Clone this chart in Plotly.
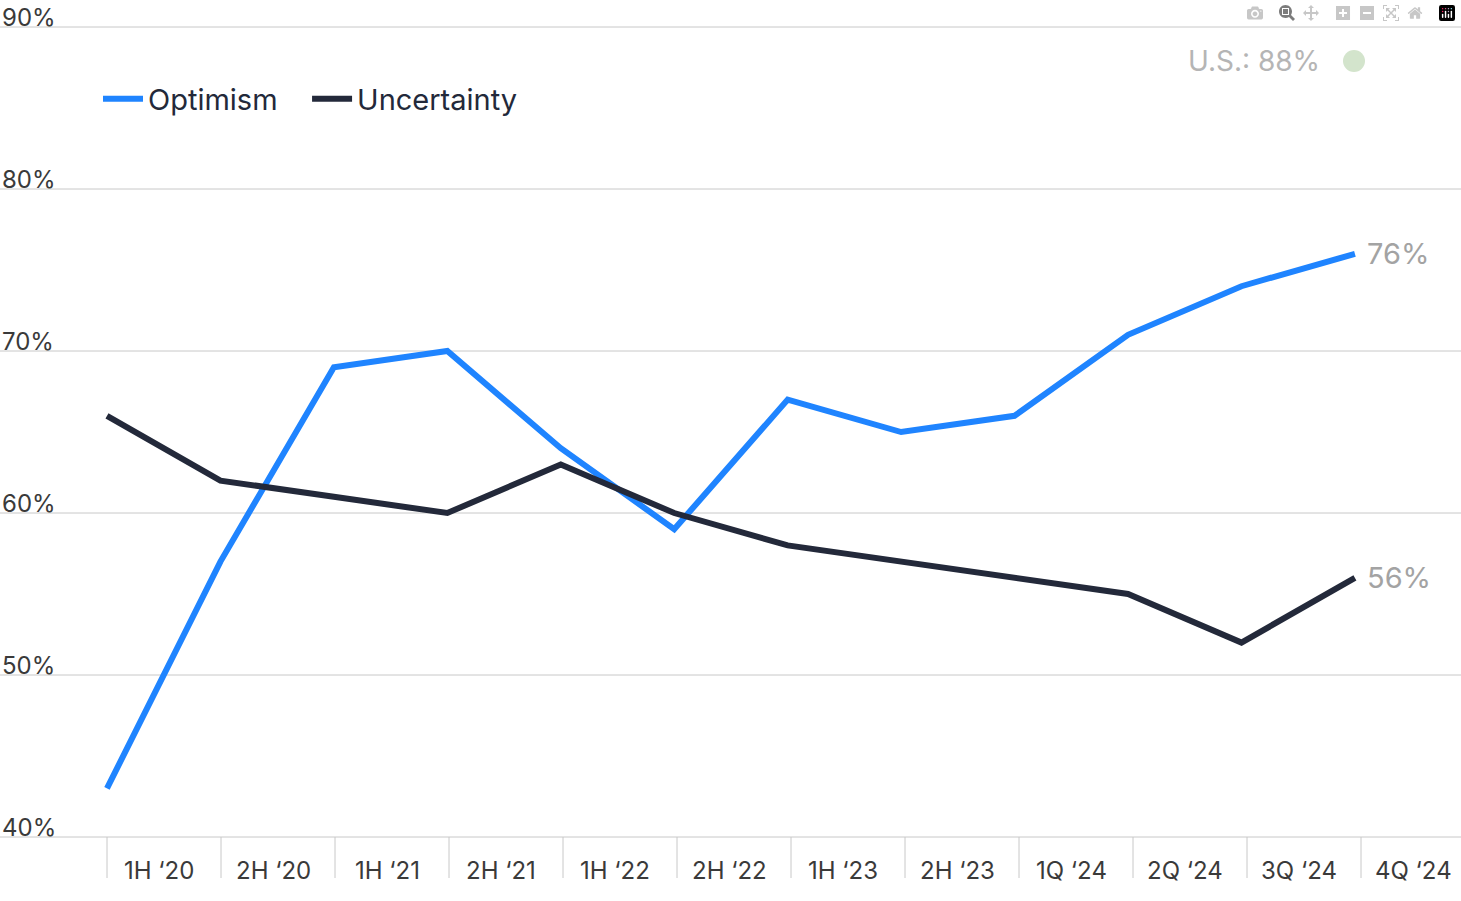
import plotly.graph_objects as go

categories = ["1H \u201820","2H \u201820","1H \u201821","2H \u201821","1H \u201822","2H \u201822",
              "1H \u201823","2H \u201823","1Q \u201824","2Q \u201824","3Q \u201824","4Q \u201824"]
optimism = [43, 57, 69, 70, 64, 59, 67, 65, 66, 71, 74, 76]
uncertainty = [66, 62, 61, 60, 63, 60, 58, 57, 56, 55, 52, 56]
y_ticks = [40, 50, 60, 70, 80, 90]

W, H = 1461, 901
BLUE, DARK, GRID, GRAY = "#1f84ff", "#23293a", "#c8c8c8", "#a3a3a3"
FONT = "Inter"
x = list(range(len(categories)))

fig = go.Figure()
fig.add_trace(go.Scatter(x=x, y=optimism, mode="lines", name="Optimism   ",
                         line=dict(color=BLUE, width=6)))
fig.add_trace(go.Scatter(x=x, y=uncertainty, mode="lines", name="Uncertainty",
                         line=dict(color=DARK, width=6)))

shapes, ann = [], []
for t in y_ticks:
    shapes.append(dict(type="line", xref="paper", yref="y", x0=0, x1=1, y0=t, y1=t,
                       line=dict(color=GRID, width=1), layer="below"))
    ann.append(dict(xref="paper", yref="y", x=0, y=t, text=f"{t}%", showarrow=False,
                    xanchor="left", yanchor="bottom", yshift=-7,
                    font=dict(family=FONT, size=24, color="#3a3a3a")))
for i, c in enumerate(categories):
    px = 107 + 114 * i
    shapes.append(dict(type="line", xref="paper", yref="paper", x0=px / W, x1=px / W,
                       y0=(H - 878) / H, y1=(H - 837) / H, line=dict(color=GRID, width=1)))
    ann.append(dict(xref="paper", yref="paper", x=(px + 52) / W, y=(H - 870) / H, text=c,
                    showarrow=False, xanchor="center", yanchor="middle",
                    font=dict(family=FONT, size=24, color="#3a3a3a")))
ann.append(dict(x=11, y=optimism[-1], text=f"{optimism[-1]}%", showarrow=False,
                xanchor="left", xshift=10, font=dict(family=FONT, size=29, color=GRAY)))
ann.append(dict(x=11, y=uncertainty[-1], text=f"{uncertainty[-1]}%", showarrow=False,
                xanchor="left", xshift=10, font=dict(family=FONT, size=29, color=GRAY)))
ann.append(dict(xref="paper", yref="paper", x=1322 / W, y=(H - 61) / H, text="U.S.: 88%",
                showarrow=False, xanchor="right", yanchor="middle",
                font=dict(family=FONT, size=28, color="#b5b5b5")))
shapes.append(dict(type="circle", xref="paper", yref="paper",
                   x0=1343 / W, x1=1365 / W, y0=(H - 72) / H, y1=(H - 50) / H,
                   fillcolor="#d3e4cc", line=dict(width=0)))

fig.update_layout(
    width=W, height=H, margin=dict(l=0, r=0, t=0, b=0),
    plot_bgcolor="white", paper_bgcolor="white",
    xaxis=dict(range=[-0.943, 11.935], visible=False),
    yaxis=dict(range=[36.05, 91.667], visible=False),
    shapes=shapes, annotations=ann,
    legend=dict(orientation="h", x=98 / W, y=(H - 99) / H, xanchor="left", yanchor="middle",
                font=dict(family=FONT, size=29, color="#23293a"), itemwidth=40,
                bgcolor="rgba(0,0,0,0)"),
)
fig.write_html("out.html")
with open("out.html", encoding="utf-8") as f:
    html = f.read()
html = html.replace("<head>", "<head><style>html,body{margin:0;padding:0;overflow:hidden}</style>", 1)
with open("out.html", "w", encoding="utf-8") as f:
    f.write(html)
